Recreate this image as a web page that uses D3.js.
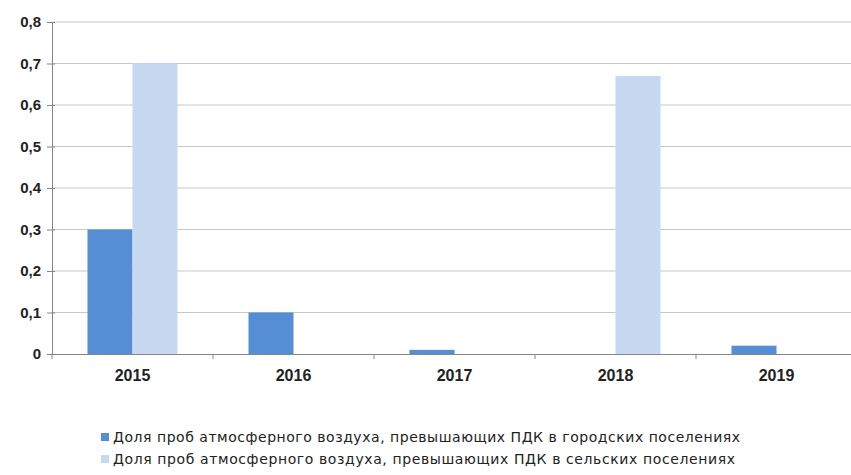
<!DOCTYPE html>
<html>
<head>
<meta charset="utf-8">
<script src="https://cdn.jsdelivr.net/npm/d3@7"></script>
<style>
  body { margin: 0; background: #fff; }
  svg { font-family: "Liberation Sans", Arial, sans-serif; }
</style>
</head>
<body>
<div id="chart"></div>
<script>
const years = ['2015', '2016', '2017', '2018', '2019'];
const urban = [0.3, 0.1, 0.01, 0, 0.02];
const rural = [0.7, 0, 0, 0.67, 0];
const yTicks = [0, 0.1, 0.2, 0.3, 0.4, 0.5, 0.6, 0.7, 0.8];
const seriesNames = [
    'Доля проб атмосферного воздуха, превышающих ПДК в городских поселениях',
    'Доля проб атмосферного воздуха, превышающих ПДК в сельских поселениях'
];
const legendWidths = [627, 622];
const colors = ['#558ed5', '#c6d9f1'];

const w = 851, h = 475;
const m = { top: 22, left: 52, right: -6, bottom: 120 };

const svg = d3.select('#chart')
    .append('svg')
    .attr('width', w)
    .attr('height', h);

const x = d3.scaleBand()
    .domain(years)
    .range([m.left, w - m.right]);

const y = d3.scaleLinear()
    .domain([0, 0.8])
    .range([h - m.bottom - 1, m.top]);

const fmt = d => d === 0 ? '0' : d.toFixed(1).replace('.', ',');

// grid lines
svg.append('g')
    .selectAll('line')
    .data(yTicks.filter(d => d > 0))
    .join('line')
    .attr('x1', m.left)
    .attr('x2', w - m.right)
    .attr('y1', d => y(d))
    .attr('y2', d => y(d))
    .style('stroke', '#c8c8c8')
    .style('stroke-width', '1px');

// bars
const barW = 45;
const series = [urban, rural];
series.forEach((vals, s) => {
    svg.append('g')
        .selectAll('rect')
        .data(vals.map((v, i) => ({ year: years[i], value: v })))
        .join('rect')
        .attr('x', d => x(d.year) + x.bandwidth() / 2 - barW + s * barW)
        .attr('y', d => y(d.value))
        .attr('width', barW)
        .attr('height', d => y(0) - y(d.value))
        .style('fill', colors[s]);
});

// y axis
const yAxis = svg.append('g')
    .attr('transform', `translate(${m.left},0)`)
    .call(d3.axisLeft(y).tickValues(yTicks).tickFormat(fmt).tickSize(5).tickPadding(6));
yAxis.select('.domain').attr('stroke', '#868686');
yAxis.selectAll('.tick line').attr('stroke', '#868686').attr('x2', -5).attr('x1', 3);
yAxis.selectAll('.tick text')
    .style('font-size', '15px')
    .style('font-weight', 'bold')
    .style('fill', '#222');

// x axis
const xAxis = svg.append('g')
    .attr('transform', `translate(0,${y(0)})`)
    .call(d3.axisBottom(x).tickSize(0));
xAxis.select('.domain').attr('stroke', '#868686');
xAxis.selectAll('.tick text')
    .attr('y', 27)
    .attr('dy', null)
    .style('font-size', '16px')
    .style('font-weight', 'bold')
    .style('fill', '#222');

// category separators
svg.append('g')
    .selectAll('line')
    .data(years)
    .join('line')
    .attr('x1', d => x(d))
    .attr('x2', d => x(d))
    .attr('y1', y(0))
    .attr('y2', y(0) + 5)
    .style('stroke', '#868686');

// legend
const legend = svg.append('g')
    .selectAll('g')
    .data(seriesNames)
    .join('g')
    .attr('transform', (d, i) => `translate(101,${442 + i * 22})`);

legend.append('rect')
    .attr('x', 0)
    .attr('y', -9)
    .attr('width', 8)
    .attr('height', 8)
    .style('fill', (d, i) => colors[i]);

legend.append('text')
    .attr('x', 12)
    .attr('y', 0)
    .attr('textLength', (d, i) => legendWidths[i])
    .attr('lengthAdjust', 'spacing')
    .style('font-family', '"DejaVu Sans", Verdana, sans-serif')
    .style('font-size', '14px')
    .style('fill', '#222')
    .text(d => d);
</script>
</body>
</html>
